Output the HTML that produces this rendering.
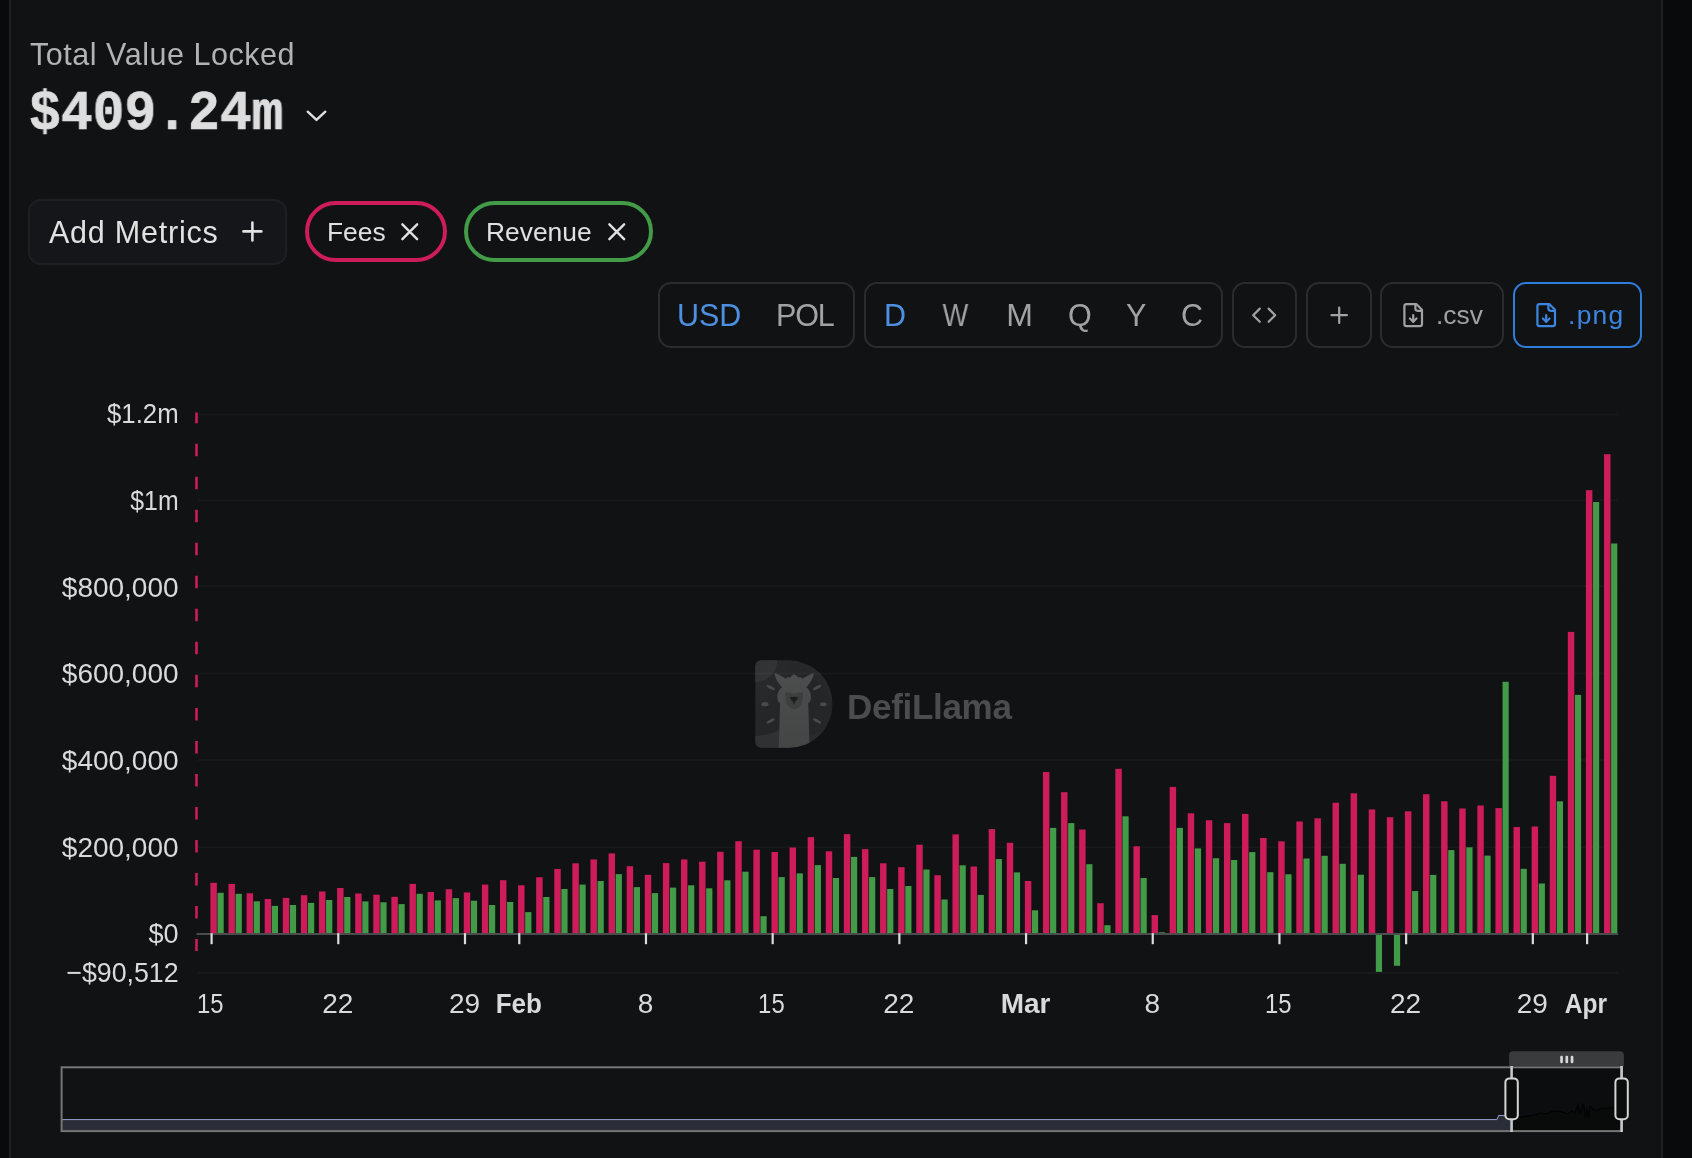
<!DOCTYPE html>
<html><head><meta charset="utf-8"><title>Total Value Locked</title>
<style>
*{box-sizing:border-box;margin:0;padding:0}
html,body{width:1692px;height:1158px;overflow:hidden;background:#090a0b}
body{font-family:"Liberation Sans",sans-serif;position:relative;color:#e4e4e4}
.card{position:absolute;left:9px;top:-4px;width:1654px;height:1170px;background:#111214;border-left:2px solid #202124;border-right:2px solid #202124}
.abs{position:absolute;white-space:nowrap}
.abs,.tb,.pt{will-change:transform}
.tvl{left:29.5px;top:36.3px;font-size:30.5px;line-height:36px;color:#b3b3b3;letter-spacing:0.53px}
.val{left:28.6px;top:82.5px;font-family:"Liberation Mono",monospace;font-weight:700;font-size:55px;line-height:64px;color:#dedede;-webkit-text-stroke:0.7px #dedede;transform-origin:0 50%;transform:scaleX(0.9636)}
.btn{position:absolute;border:2px solid #2a2c30;border-radius:13px;height:65.6px;top:282.1px}
.tb{position:absolute;top:297px;font-size:30.5px;line-height:36px;color:#a2a2a2;white-space:nowrap}
.blue{color:#4d8fe0}
.pill{position:absolute;top:200.7px;height:61.3px;border-radius:31px;border:4px solid #ce1c5a}
.pt{position:absolute;top:216.5px;font-size:26.4px;line-height:30px;color:#e0e0e0;white-space:nowrap}
svg text{font-family:"Liberation Sans",sans-serif;font-size:28px;fill:#dadada}
</style></head>
<body>
<div class="card"></div>

<div class="abs tvl">Total Value Locked</div>
<div class="abs val">$409.24m</div>
<svg class="abs" style="left:304px;top:106px" width="26" height="20" viewBox="0 0 26 20"><path d="M3.7 5.7 L12.5 13.9 L21.3 5.7" fill="none" stroke="#e0e0e0" stroke-width="2.4" stroke-linecap="round" stroke-linejoin="round"/></svg>

<!-- Add metrics -->
<div class="abs" style="left:28px;top:199px;width:259px;height:65.5px;border:2px solid #1e1f23;border-radius:13px;background:#15161a"></div>
<div class="abs" style="left:49.3px;top:214.2px;font-size:30.5px;line-height:36px;color:#e2e2e2;letter-spacing:0.78px">Add Metrics</div>
<svg class="abs" style="left:237.05px;top:215.85px" width="30.8" height="30.8" viewBox="0 0 24 24" fill="none" stroke="#e2e2e2" stroke-width="2" stroke-linecap="round"><path d="M5 12h14M12 5v14"/></svg>

<!-- pills -->
<div class="pill" style="left:304.5px;width:142.7px"></div>
<div class="pt" style="left:326.5px">Fees</div>
<svg class="abs" style="left:394.75px;top:216.85px" width="29.5" height="29.5" viewBox="0 0 24 24" fill="none" stroke="#e0e0e0" stroke-width="2" stroke-linecap="round"><path d="M18 6 6 18M6 6l12 12"/></svg>
<div class="pill" style="left:464px;width:188.7px;border-color:#429b46"></div>
<div class="pt" style="left:486px">Revenue</div>
<svg class="abs" style="left:601.65px;top:216.85px" width="29.5" height="29.5" viewBox="0 0 24 24" fill="none" stroke="#e0e0e0" stroke-width="2" stroke-linecap="round"><path d="M18 6 6 18M6 6l12 12"/></svg>

<!-- toolbar -->
<div class="btn" style="left:657.7px;width:197.7px"></div>
<div class="tb blue" style="left:676.5px">USD</div>
<div class="tb" style="left:776.3px;letter-spacing:-1.1px">POL</div>
<div class="btn" style="left:864.4px;width:358.2px"></div>
<div class="tb blue" style="left:884px">D</div>
<div class="tb" style="left:941.4px;transform:scaleX(0.89);transform-origin:50% 50%">W</div>
<div class="tb" style="left:1006.5px;transform:scaleX(1.05);transform-origin:50% 50%">M</div>
<div class="tb" style="left:1067.5px">Q</div>
<div class="tb" style="left:1126px">Y</div>
<div class="tb" style="left:1181px">C</div>
<div class="btn" style="left:1232.1px;width:64.8px"></div>
<svg class="abs" style="left:1250.8px;top:302px" width="26.4" height="26.4" viewBox="0 0 24 24" fill="none" stroke="#a2a2a2" stroke-width="2" stroke-linecap="round" stroke-linejoin="round"><polyline points="16 18 22 12 16 6"/><polyline points="8 6 2 12 8 18"/></svg>
<div class="btn" style="left:1306.3px;width:65.3px"></div>
<svg class="abs" style="left:1325.8px;top:302px" width="26.4" height="26.4" viewBox="0 0 24 24" fill="none" stroke="#a2a2a2" stroke-width="2" stroke-linecap="round"><path d="M5 12h14M12 5v14"/></svg>
<div class="btn" style="left:1380.3px;width:124px"></div>
<svg class="abs" style="left:1399.9px;top:301.9px" width="26.4" height="26.4" viewBox="0 0 24 24" fill="none" stroke="#a2a2a2" stroke-width="2" stroke-linecap="round" stroke-linejoin="round"><path d="M15 2H6a2 2 0 0 0-2 2v16a2 2 0 0 0 2 2h12a2 2 0 0 0 2-2V7Z"/><path d="M14 2v4a2 2 0 0 0 2 2h4"/><path d="M12 18v-6"/><path d="m9 15 3 3 3-3"/></svg>
<div class="tb" style="left:1436px;font-size:26.4px">.csv</div>
<div class="btn" style="left:1513.2px;width:129.3px;border-color:#2f7ddb"></div>
<svg class="abs" style="left:1532.8px;top:301.9px" width="26.4" height="26.4" viewBox="0 0 24 24" fill="none" stroke="#3b86e0" stroke-width="2" stroke-linecap="round" stroke-linejoin="round"><path d="M15 2H6a2 2 0 0 0-2 2v16a2 2 0 0 0 2 2h12a2 2 0 0 0 2-2V7Z"/><path d="M14 2v4a2 2 0 0 0 2 2h4"/><path d="M12 18v-6"/><path d="m9 15 3 3 3-3"/></svg>
<div class="tb" style="left:1568.4px;font-size:26.4px;color:#3b86e0;letter-spacing:1.3px">.png</div>

<!-- chart -->
<svg class="abs" style="left:0;top:0" width="1692" height="1158" viewBox="0 0 1692 1158">
<defs><linearGradient id="dg" x1="0" y1="0" x2="1" y2="1"><stop offset="0" stop-color="#2a2c2d"/><stop offset="0.45" stop-color="#232526"/><stop offset="1" stop-color="#252728"/></linearGradient>
<linearGradient id="lg" x1="0" y1="0" x2="0" y2="1"><stop offset="0" stop-color="#4c4e4e"/><stop offset="1" stop-color="#444646"/></linearGradient>
<clipPath id="dclip"><path d="M761.3 660.3H788.7A43.75 43.75 0 0 1 788.7 747.8H761.3a6 6 0 0 1-6-6V666.3a6 6 0 0 1 6-6Z"/></clipPath></defs>
<path d="M761.3 660.3H788.7A43.75 43.75 0 0 1 788.7 747.8H761.3a6 6 0 0 1-6-6V666.3a6 6 0 0 1 6-6Z" fill="url(#dg)"/>
<g clip-path="url(#dclip)"><g transform="translate(745 650) scale(0.09497)">
<circle cx="108" cy="108" r="232" fill="#313334"/>
<path d="M620 170L760 100L940 100L940 560Z" fill="#262829"/>
<path d="M100 905C200 900 300 882 362 838L362 1040L100 1040Z" fill="#2f3132"/>
<path d="M678 900C740 890 800 860 860 800L860 1040L678 1040Z" fill="#292b2c"/>
<g fill="#494b4b">
<ellipse cx="270" cy="396" rx="48" ry="15" transform="rotate(30 270 396)"/>
<ellipse cx="760" cy="396" rx="48" ry="15" transform="rotate(-30 760 396)"/>
<ellipse cx="210" cy="570" rx="37" ry="22"/>
<ellipse cx="825" cy="570" rx="35" ry="21"/>
<ellipse cx="270" cy="748" rx="48" ry="15" transform="rotate(-30 270 748)"/>
<ellipse cx="760" cy="748" rx="48" ry="15" transform="rotate(30 760 748)"/>
</g>
<path fill="url(#lg)" d="M315 245C350 255 400 285 430 302C440 285 465 283 478 290C488 268 505 257 517 257C529 257 546 268 556 290C569 283 594 285 605 302C635 285 685 255 722 245C728 275 690 350 645 392C665 405 693 440 695 495C696 530 680 552 666 562L680 1040L355 1040L369 562C355 552 339 530 340 495C342 440 370 405 392 392C345 350 308 275 315 245Z"/>
<path fill="#3d3f3f" d="M425 440C440 452 460 452 470 445C485 462 545 462 562 445C572 452 592 452 610 440C612 480 608 520 600 550C585 600 545 625 517 625C489 625 449 600 434 550C426 520 422 480 425 440Z"/>
<path fill="#1d1f1f" d="M472 497C500 490 535 490 560 497C555 520 535 540 525 548L522 570L510 570L508 548C497 540 478 520 472 497Z"/>
</g></g>
<text x="847" y="718.6" font-weight="700" style="font-size:35px;fill:#4b4c4d;letter-spacing:-0.3px">DefiLlama</text>
<rect x="198" y="413.6" width="1420" height="1.8" fill="#fff" opacity="0.03"/>
<rect x="198" y="499.4" width="1420" height="1.8" fill="#fff" opacity="0.03"/>
<rect x="198" y="585.1" width="1420" height="1.8" fill="#fff" opacity="0.03"/>
<rect x="198" y="672.6" width="1420" height="1.8" fill="#fff" opacity="0.03"/>
<rect x="198" y="759.1" width="1420" height="1.8" fill="#fff" opacity="0.03"/>
<rect x="198" y="846.4" width="1420" height="1.8" fill="#fff" opacity="0.03"/>
<rect x="198" y="972.1" width="1420" height="1.8" fill="#fff" opacity="0.03"/>
<rect x="210.40" y="882.8" width="6.45" height="51.2" fill="#ce1c5a"/>
<rect x="217.50" y="892.8" width="6.2" height="41.2" fill="#429b46"/>
<rect x="228.50" y="883.9" width="6.45" height="50.1" fill="#ce1c5a"/>
<rect x="235.60" y="893.8" width="6.2" height="40.2" fill="#429b46"/>
<rect x="246.60" y="893.3" width="6.45" height="40.7" fill="#ce1c5a"/>
<rect x="253.70" y="901.3" width="6.2" height="32.7" fill="#429b46"/>
<rect x="264.70" y="899.0" width="6.45" height="35.0" fill="#ce1c5a"/>
<rect x="271.80" y="905.9" width="6.2" height="28.1" fill="#429b46"/>
<rect x="282.80" y="897.9" width="6.45" height="36.1" fill="#ce1c5a"/>
<rect x="289.90" y="905.0" width="6.2" height="29.0" fill="#429b46"/>
<rect x="300.89" y="895.2" width="6.45" height="38.8" fill="#ce1c5a"/>
<rect x="308.00" y="902.9" width="6.2" height="31.1" fill="#429b46"/>
<rect x="318.99" y="891.5" width="6.45" height="42.5" fill="#ce1c5a"/>
<rect x="326.09" y="900.0" width="6.2" height="34.0" fill="#429b46"/>
<rect x="337.09" y="888.0" width="6.45" height="46.0" fill="#ce1c5a"/>
<rect x="344.19" y="897.0" width="6.2" height="37.0" fill="#429b46"/>
<rect x="355.19" y="893.5" width="6.45" height="40.5" fill="#ce1c5a"/>
<rect x="362.29" y="901.4" width="6.2" height="32.6" fill="#429b46"/>
<rect x="373.29" y="894.7" width="6.45" height="39.3" fill="#ce1c5a"/>
<rect x="380.39" y="902.3" width="6.2" height="31.7" fill="#429b46"/>
<rect x="391.39" y="896.8" width="6.45" height="37.2" fill="#ce1c5a"/>
<rect x="398.49" y="904.1" width="6.2" height="29.9" fill="#429b46"/>
<rect x="409.49" y="883.9" width="6.45" height="50.1" fill="#ce1c5a"/>
<rect x="416.59" y="893.8" width="6.2" height="40.2" fill="#429b46"/>
<rect x="427.59" y="892.0" width="6.45" height="42.0" fill="#ce1c5a"/>
<rect x="434.69" y="900.4" width="6.2" height="33.6" fill="#429b46"/>
<rect x="445.69" y="889.2" width="6.45" height="44.8" fill="#ce1c5a"/>
<rect x="452.79" y="898.1" width="6.2" height="35.9" fill="#429b46"/>
<rect x="463.79" y="892.4" width="6.45" height="41.6" fill="#ce1c5a"/>
<rect x="470.89" y="900.7" width="6.2" height="33.3" fill="#429b46"/>
<rect x="481.88" y="884.6" width="6.45" height="49.4" fill="#ce1c5a"/>
<rect x="488.99" y="905.0" width="6.2" height="29.0" fill="#429b46"/>
<rect x="499.98" y="880.2" width="6.45" height="53.8" fill="#ce1c5a"/>
<rect x="507.08" y="902.0" width="6.2" height="32.0" fill="#429b46"/>
<rect x="518.08" y="885.3" width="6.45" height="48.7" fill="#ce1c5a"/>
<rect x="525.18" y="912.1" width="6.2" height="21.9" fill="#429b46"/>
<rect x="536.18" y="877.3" width="6.45" height="56.7" fill="#ce1c5a"/>
<rect x="543.28" y="897.0" width="6.2" height="37.0" fill="#429b46"/>
<rect x="554.28" y="869.0" width="6.45" height="65.0" fill="#ce1c5a"/>
<rect x="561.38" y="889.0" width="6.2" height="45.0" fill="#429b46"/>
<rect x="572.38" y="863.3" width="6.45" height="70.7" fill="#ce1c5a"/>
<rect x="579.48" y="884.6" width="6.2" height="49.4" fill="#429b46"/>
<rect x="590.48" y="859.4" width="6.45" height="74.6" fill="#ce1c5a"/>
<rect x="597.58" y="881.0" width="6.2" height="53.0" fill="#429b46"/>
<rect x="608.58" y="853.4" width="6.45" height="80.6" fill="#ce1c5a"/>
<rect x="615.68" y="874.1" width="6.2" height="59.9" fill="#429b46"/>
<rect x="626.68" y="866.2" width="6.45" height="67.8" fill="#ce1c5a"/>
<rect x="633.78" y="887.1" width="6.2" height="46.9" fill="#429b46"/>
<rect x="644.78" y="874.8" width="6.45" height="59.2" fill="#ce1c5a"/>
<rect x="651.88" y="893.1" width="6.2" height="40.9" fill="#429b46"/>
<rect x="662.88" y="863.1" width="6.45" height="70.9" fill="#ce1c5a"/>
<rect x="669.98" y="887.6" width="6.2" height="46.4" fill="#429b46"/>
<rect x="680.97" y="859.4" width="6.45" height="74.6" fill="#ce1c5a"/>
<rect x="688.07" y="885.3" width="6.2" height="48.7" fill="#429b46"/>
<rect x="699.07" y="861.7" width="6.45" height="72.3" fill="#ce1c5a"/>
<rect x="706.17" y="888.3" width="6.2" height="45.7" fill="#429b46"/>
<rect x="717.17" y="851.8" width="6.45" height="82.2" fill="#ce1c5a"/>
<rect x="724.27" y="880.3" width="6.2" height="53.7" fill="#429b46"/>
<rect x="735.27" y="841.2" width="6.45" height="92.8" fill="#ce1c5a"/>
<rect x="742.37" y="871.7" width="6.2" height="62.3" fill="#429b46"/>
<rect x="753.37" y="849.7" width="6.45" height="84.3" fill="#ce1c5a"/>
<rect x="760.47" y="916.2" width="6.2" height="17.8" fill="#429b46"/>
<rect x="771.47" y="852.0" width="6.45" height="82.0" fill="#ce1c5a"/>
<rect x="778.57" y="877.1" width="6.2" height="56.9" fill="#429b46"/>
<rect x="789.57" y="847.5" width="6.45" height="86.5" fill="#ce1c5a"/>
<rect x="796.67" y="873.4" width="6.2" height="60.6" fill="#429b46"/>
<rect x="807.67" y="837.1" width="6.45" height="96.9" fill="#ce1c5a"/>
<rect x="814.77" y="865.1" width="6.2" height="68.9" fill="#429b46"/>
<rect x="825.77" y="851.3" width="6.45" height="82.7" fill="#ce1c5a"/>
<rect x="832.87" y="878.0" width="6.2" height="56.0" fill="#429b46"/>
<rect x="843.87" y="834.1" width="6.45" height="99.9" fill="#ce1c5a"/>
<rect x="850.97" y="856.9" width="6.2" height="77.1" fill="#429b46"/>
<rect x="861.96" y="849.1" width="6.45" height="84.9" fill="#ce1c5a"/>
<rect x="869.06" y="877.1" width="6.2" height="56.9" fill="#429b46"/>
<rect x="880.06" y="863.3" width="6.45" height="70.7" fill="#ce1c5a"/>
<rect x="887.16" y="889.0" width="6.2" height="45.0" fill="#429b46"/>
<rect x="898.16" y="867.2" width="6.45" height="66.8" fill="#ce1c5a"/>
<rect x="905.26" y="886.0" width="6.2" height="48.0" fill="#429b46"/>
<rect x="916.26" y="844.7" width="6.45" height="89.3" fill="#ce1c5a"/>
<rect x="923.36" y="869.5" width="6.2" height="64.5" fill="#429b46"/>
<rect x="934.36" y="875.2" width="6.45" height="58.8" fill="#ce1c5a"/>
<rect x="941.46" y="899.5" width="6.2" height="34.5" fill="#429b46"/>
<rect x="952.46" y="834.4" width="6.45" height="99.6" fill="#ce1c5a"/>
<rect x="959.56" y="865.3" width="6.2" height="68.7" fill="#429b46"/>
<rect x="970.56" y="866.5" width="6.45" height="67.5" fill="#ce1c5a"/>
<rect x="977.66" y="894.9" width="6.2" height="39.1" fill="#429b46"/>
<rect x="988.66" y="829.1" width="6.45" height="104.9" fill="#ce1c5a"/>
<rect x="995.76" y="859.1" width="6.2" height="74.9" fill="#429b46"/>
<rect x="1006.76" y="842.8" width="6.45" height="91.2" fill="#ce1c5a"/>
<rect x="1013.86" y="872.4" width="6.2" height="61.6" fill="#429b46"/>
<rect x="1024.86" y="881.0" width="6.45" height="53.0" fill="#ce1c5a"/>
<rect x="1031.95" y="910.3" width="6.2" height="23.7" fill="#429b46"/>
<rect x="1042.95" y="772.0" width="6.45" height="162.0" fill="#ce1c5a"/>
<rect x="1050.05" y="827.9" width="6.2" height="106.1" fill="#429b46"/>
<rect x="1061.05" y="792.2" width="6.45" height="141.8" fill="#ce1c5a"/>
<rect x="1068.15" y="823.1" width="6.2" height="110.9" fill="#429b46"/>
<rect x="1079.15" y="829.5" width="6.45" height="104.5" fill="#ce1c5a"/>
<rect x="1086.25" y="864.2" width="6.2" height="69.8" fill="#429b46"/>
<rect x="1097.25" y="903.2" width="6.45" height="30.8" fill="#ce1c5a"/>
<rect x="1104.35" y="925.2" width="6.2" height="8.8" fill="#429b46"/>
<rect x="1115.35" y="768.8" width="6.45" height="165.2" fill="#ce1c5a"/>
<rect x="1122.45" y="816.3" width="6.2" height="117.7" fill="#429b46"/>
<rect x="1133.45" y="846.3" width="6.45" height="87.7" fill="#ce1c5a"/>
<rect x="1140.55" y="878.0" width="6.2" height="56.0" fill="#429b46"/>
<rect x="1151.55" y="915.1" width="6.45" height="18.9" fill="#ce1c5a"/>
<rect x="1158.65" y="932.3" width="6.2" height="1.7" fill="#429b46"/>
<rect x="1169.65" y="786.9" width="6.45" height="147.1" fill="#ce1c5a"/>
<rect x="1176.75" y="827.9" width="6.2" height="106.1" fill="#429b46"/>
<rect x="1187.75" y="813.3" width="6.45" height="120.7" fill="#ce1c5a"/>
<rect x="1194.85" y="848.4" width="6.2" height="85.6" fill="#429b46"/>
<rect x="1205.85" y="820.2" width="6.45" height="113.8" fill="#ce1c5a"/>
<rect x="1212.94" y="858.2" width="6.2" height="75.8" fill="#429b46"/>
<rect x="1223.94" y="823.1" width="6.45" height="110.9" fill="#ce1c5a"/>
<rect x="1231.04" y="860.0" width="6.2" height="74.0" fill="#429b46"/>
<rect x="1242.04" y="813.9" width="6.45" height="120.1" fill="#ce1c5a"/>
<rect x="1249.14" y="852.1" width="6.2" height="81.9" fill="#429b46"/>
<rect x="1260.14" y="838.0" width="6.45" height="96.0" fill="#ce1c5a"/>
<rect x="1267.24" y="872.2" width="6.2" height="61.8" fill="#429b46"/>
<rect x="1278.24" y="841.3" width="6.45" height="92.7" fill="#ce1c5a"/>
<rect x="1285.34" y="874.3" width="6.2" height="59.7" fill="#429b46"/>
<rect x="1296.34" y="821.5" width="6.45" height="112.5" fill="#ce1c5a"/>
<rect x="1303.44" y="858.5" width="6.2" height="75.5" fill="#429b46"/>
<rect x="1314.44" y="818.3" width="6.45" height="115.7" fill="#ce1c5a"/>
<rect x="1321.54" y="855.8" width="6.2" height="78.2" fill="#429b46"/>
<rect x="1332.54" y="802.7" width="6.45" height="131.3" fill="#ce1c5a"/>
<rect x="1339.64" y="863.8" width="6.2" height="70.2" fill="#429b46"/>
<rect x="1350.64" y="793.3" width="6.45" height="140.7" fill="#ce1c5a"/>
<rect x="1357.74" y="874.7" width="6.2" height="59.3" fill="#429b46"/>
<rect x="1368.74" y="809.4" width="6.45" height="124.6" fill="#ce1c5a"/>
<rect x="1375.84" y="934.0" width="6.2" height="37.9" fill="#429b46"/>
<rect x="1386.84" y="817.2" width="6.45" height="116.8" fill="#ce1c5a"/>
<rect x="1393.93" y="934.0" width="6.2" height="31.8" fill="#429b46"/>
<rect x="1404.93" y="811.3" width="6.45" height="122.7" fill="#ce1c5a"/>
<rect x="1412.03" y="891.1" width="6.2" height="42.9" fill="#429b46"/>
<rect x="1423.03" y="794.2" width="6.45" height="139.8" fill="#ce1c5a"/>
<rect x="1430.13" y="874.9" width="6.2" height="59.1" fill="#429b46"/>
<rect x="1441.13" y="801.3" width="6.45" height="132.7" fill="#ce1c5a"/>
<rect x="1448.23" y="850.1" width="6.2" height="83.9" fill="#429b46"/>
<rect x="1459.23" y="808.5" width="6.45" height="125.5" fill="#ce1c5a"/>
<rect x="1466.33" y="847.3" width="6.2" height="86.7" fill="#429b46"/>
<rect x="1477.33" y="805.5" width="6.45" height="128.5" fill="#ce1c5a"/>
<rect x="1484.43" y="855.6" width="6.2" height="78.4" fill="#429b46"/>
<rect x="1495.43" y="808.1" width="6.45" height="125.9" fill="#ce1c5a"/>
<rect x="1502.53" y="681.8" width="6.2" height="252.2" fill="#429b46"/>
<rect x="1513.53" y="827.0" width="6.45" height="107.0" fill="#ce1c5a"/>
<rect x="1520.63" y="868.8" width="6.2" height="65.2" fill="#429b46"/>
<rect x="1531.63" y="826.5" width="6.45" height="107.5" fill="#ce1c5a"/>
<rect x="1538.73" y="883.5" width="6.2" height="50.5" fill="#429b46"/>
<rect x="1549.73" y="775.8" width="6.45" height="158.2" fill="#ce1c5a"/>
<rect x="1556.83" y="801.3" width="6.2" height="132.7" fill="#429b46"/>
<rect x="1567.83" y="631.9" width="6.45" height="302.1" fill="#ce1c5a"/>
<rect x="1574.92" y="694.9" width="6.2" height="239.1" fill="#429b46"/>
<rect x="1585.92" y="490.2" width="6.45" height="443.8" fill="#ce1c5a"/>
<rect x="1593.02" y="502.0" width="6.2" height="432.0" fill="#429b46"/>
<rect x="1604.02" y="454.2" width="6.45" height="479.8" fill="#ce1c5a"/>
<rect x="1611.12" y="543.5" width="6.2" height="390.5" fill="#429b46"/>
<rect x="196.5" y="933" width="1421.7" height="2" fill="#4b4c4e"/>
<rect x="210.50" y="933.2" width="2.2" height="11" fill="#dcdcdc"/>
<text transform="translate(210.30 1013.4) scale(0.8520 1)" x="0" y="0" text-anchor="middle">15</text>
<rect x="337.19" y="933.2" width="2.2" height="11" fill="#dcdcdc"/>
<text transform="translate(337.79 1013.4) scale(1.0000 1)" x="0" y="0" text-anchor="middle">22</text>
<rect x="463.89" y="933.2" width="2.2" height="11" fill="#dcdcdc"/>
<text transform="translate(464.49 1013.4) scale(1.0000 1)" x="0" y="0" text-anchor="middle">29</text>
<rect x="518.18" y="933.2" width="2.2" height="11" fill="#dcdcdc"/>
<text transform="translate(518.78 1013.4) scale(0.9290 1)" x="0" y="0" text-anchor="middle" font-weight="700">Feb</text>
<rect x="644.88" y="933.2" width="2.2" height="11" fill="#dcdcdc"/>
<text transform="translate(645.48 1013.4) scale(1.0000 1)" x="0" y="0" text-anchor="middle">8</text>
<rect x="771.57" y="933.2" width="2.2" height="11" fill="#dcdcdc"/>
<text transform="translate(771.37 1013.4) scale(0.8520 1)" x="0" y="0" text-anchor="middle">15</text>
<rect x="898.26" y="933.2" width="2.2" height="11" fill="#dcdcdc"/>
<text transform="translate(898.86 1013.4) scale(1.0000 1)" x="0" y="0" text-anchor="middle">22</text>
<rect x="1024.96" y="933.2" width="2.2" height="11" fill="#dcdcdc"/>
<text transform="translate(1025.56 1013.4) scale(1.0000 1)" x="0" y="0" text-anchor="middle" font-weight="700">Mar</text>
<rect x="1151.65" y="933.2" width="2.2" height="11" fill="#dcdcdc"/>
<text transform="translate(1152.25 1013.4) scale(1.0000 1)" x="0" y="0" text-anchor="middle">8</text>
<rect x="1278.34" y="933.2" width="2.2" height="11" fill="#dcdcdc"/>
<text transform="translate(1278.14 1013.4) scale(0.8520 1)" x="0" y="0" text-anchor="middle">15</text>
<rect x="1405.03" y="933.2" width="2.2" height="11" fill="#dcdcdc"/>
<text transform="translate(1405.63 1013.4) scale(1.0000 1)" x="0" y="0" text-anchor="middle">22</text>
<rect x="1531.73" y="933.2" width="2.2" height="11" fill="#dcdcdc"/>
<text transform="translate(1532.33 1013.4) scale(1.0000 1)" x="0" y="0" text-anchor="middle">29</text>
<rect x="1586.02" y="933.2" width="2.2" height="11" fill="#dcdcdc"/>
<text transform="translate(1585.92 1013.4) scale(0.8790 1)" x="0" y="0" text-anchor="middle" font-weight="700">Apr</text>
<line x1="196.5" y1="412.6" x2="196.5" y2="951" stroke="#ce1c5a" stroke-width="2.6" stroke-dasharray="12.5 20.52" stroke-dashoffset="1.9"/>
<text transform="translate(178.6 423.2) scale(0.9210 1)" x="0" y="0" text-anchor="end">$1.2m</text>
<text transform="translate(178.6 509.9) scale(0.8870 1)" x="0" y="0" text-anchor="end">$1m</text>
<text transform="translate(178.6 596.5) scale(1.0000 1)" x="0" y="0" text-anchor="end">$800,000</text>
<text transform="translate(178.6 683.2) scale(1.0000 1)" x="0" y="0" text-anchor="end">$600,000</text>
<text transform="translate(178.6 769.9) scale(1.0000 1)" x="0" y="0" text-anchor="end">$400,000</text>
<text transform="translate(178.6 856.5) scale(1.0000 1)" x="0" y="0" text-anchor="end">$200,000</text>
<text transform="translate(178.6 943.2) scale(0.9670 1)" x="0" y="0" text-anchor="end">$0</text>
<text transform="translate(178.6 982.4) scale(0.9560 1)" x="0" y="0" text-anchor="end">−$90,512</text>
<rect x="62.6" y="1067.3" width="1449" height="63.7" fill="none"/>
<path d="M62 1119.6H1496.9L1498.8 1115.3L1511.6 1116.2V1131H62Z" fill="#2b2d38"/>
<path d="M62 1119.6H1496.9L1498.8 1115.3L1511.6 1116.2" fill="none" stroke="#9aa0d2" stroke-width="1"/>
<rect x="1511.6" y="1067.3" width="110" height="63.7" fill="#0c0d0e"/>
<path d="M1511.6 1116.4L1520 1117L1530 1115.8L1540 1113.200L1546 1113.800L1552 1111.600L1558 1111L1563 1112.400L1568 1113.800L1572 1111L1575 1112.800L1578 1105L1580.500 1113L1583.500 1103.500L1585.500 1117.500L1587 1108L1588.500 1118L1590 1106L1593 1109.200L1597 1110.600L1602 1107.800L1606 1108.600L1610 1107.400L1614 1108L1617.500 1109.500L1620 1094L1621.600 1068.500V1131H1511.600Z" fill="#090a0a"/>
<path d="M1511.6 1116.4L1520 1117L1530 1115.8L1540 1113.200L1546 1113.800L1552 1111.600L1558 1111L1563 1112.400L1568 1113.800L1572 1111L1575 1112.800L1578 1105L1580.500 1113L1583.500 1103.500L1585.500 1117.500L1587 1108L1588.500 1118L1590 1106L1593 1109.200L1597 1110.600L1602 1107.800L1606 1108.600L1610 1107.400L1614 1108L1617.500 1109.500L1620 1094L1621.600 1068.500" fill="none" stroke="#030303" stroke-width="1.2"/>
<rect x="61.600" y="1067.300" width="1560" height="63.800" fill="none" stroke="#757676" stroke-width="2"/>
<path d="M1509.100 1066.300V1055.300a4 4 0 0 1 4-4H1619.900a4 4 0 0 1 4 4V1066.300Z" fill="#3a3b3d"/>
<g fill="#d8d8d8"><rect x="1560.200" y="1055.700" width="2.700" height="7.500" rx="1.300"/><rect x="1565.450" y="1055.700" width="2.700" height="7.500" rx="1.300"/><rect x="1570.700" y="1055.700" width="2.700" height="7.500" rx="1.300"/></g>
<rect x="1510.300" y="1066" width="2.600" height="66" fill="#c6c6c6"/>
<rect x="1620.300" y="1066" width="2.600" height="66" fill="#c6c6c6"/>
<rect x="1505.400" y="1078.400" width="12.400" height="40.900" rx="4" fill="#0b0c0c" stroke="#d4d4d4" stroke-width="2"/>
<rect x="1615.400" y="1078.400" width="12.400" height="40.900" rx="4" fill="#0b0c0c" stroke="#d4d4d4" stroke-width="2"/>
</svg>
</body></html>
